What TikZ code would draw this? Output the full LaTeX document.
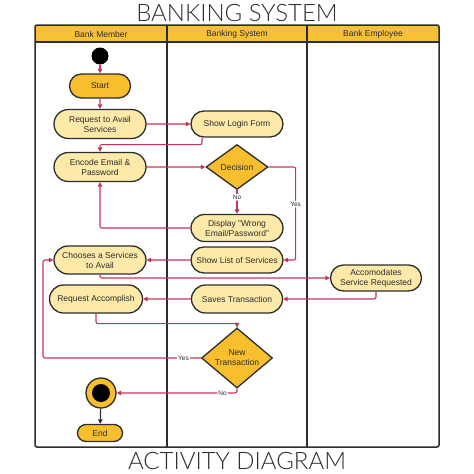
\documentclass[tikz,border=0pt]{standalone}
\usepackage{fontspec}
\setmainfont{Liberation Sans}
\newfontfamily\titlefont{Lato Light}
\usetikzlibrary{arrows.meta, positioning, shapes.geometric, shapes.misc}

\definecolor{laneyellow}{RGB}{248,192,52}
\definecolor{actfill}{RGB}{253,233,168}
\definecolor{darkfill}{RGB}{247,190,46}
\definecolor{flowred}{RGB}{196,52,88}
\definecolor{edgegray}{RGB}{45,45,45}

\tikzset{
    activity/.style={draw=edgegray, line width=1.3pt, rounded rectangle, fill=actfill, text=edgegray,
        minimum width=94pt, minimum height=28pt, inner sep=1pt, align=center, font=\fontsize{8.5}{10}\selectfont},
    terminal/.style={activity, fill=darkfill},
    choice/.style={draw=edgegray, line width=1.3pt, diamond, fill=darkfill, text=edgegray, inner sep=0pt,
        align=center, font=\fontsize{8.5}{10}\selectfont},
    flow/.style={draw=flowred, line width=1.1pt, rounded corners=2pt, -{Triangle[length=4.5pt,width=4.5pt]}},
    lbl/.style={fill=white, inner sep=1pt, text=edgegray, font=\fontsize{6.5}{7}\selectfont},
    lanehead/.style={font=\fontsize{8.5}{10}\selectfont, text=edgegray}
}

\begin{document}
\begin{tikzpicture}[x=1pt, y=-1pt]
    \useasboundingbox (0,0) rectangle (474,474);

    % swimlanes
    \fill[laneyellow] (35,25) rectangle (439,42);
    \draw[edgegray, line width=1.2pt] (35,42) -- (439,42);
    \draw[edgegray, line width=1.2pt] (167,25) -- (167,447);
    \draw[edgegray, line width=1.2pt] (307,25) -- (307,447);
    \draw[edgegray, line width=1.5pt, rounded corners=2pt] (35,25) rectangle (439,447);
    \node[lanehead] (member) at (101,34) {Bank Member};
    \node[lanehead] (system) at (237,34) {Banking System};
    \node[lanehead] (employee) at (373,34) {Bank Employee};

    \node[font=\titlefont\fontsize{24}{26}\selectfont, text=edgegray] (title) at (237,13) {BANKING SYSTEM};
    \node[font=\titlefont\fontsize{24}{26}\selectfont, text=edgegray] (caption) at (237,461) {ACTIVITY DIAGRAM};

    % activities
    \node[circle, fill=black, minimum size=17pt, inner sep=0pt] (init) at (100,56) {};
    \node[terminal, minimum width=63pt, minimum height=24pt] (start) at (100,86) {Start};
    \node[activity, minimum height=29pt] (request) at (100,124) {Request to Avail\\Services};
    \node[activity, minimum height=29pt] (encode) at (100,167) {Encode Email \&\\Password};
    \node[activity, minimum height=26pt] (login) at (237,124) {Show Login Form};
    \node[choice, minimum width=62pt, minimum height=45pt] (decision) at (237,167) {Decision};
    \node[activity, minimum height=27pt] (wrong) at (237,228) {Display "Wrong\\Email/Password"};
    \node[activity, minimum height=26pt] (showlist) at (237,260) {Show List of Services};
    \node[activity, minimum height=28pt] (choose) at (100,260) {Chooses a Services\\to Avail};
    \node[activity, minimum width=93pt, minimum height=26pt] (accom) at (376,278) {Accomodates\\Service Requested};
    \node[activity, minimum width=93pt, minimum height=28pt] (saves) at (237,299) {Saves Transaction};
    \node[activity, minimum width=95pt, minimum height=28pt] (accomplish) at (96,299) {Request Accomplish};
    \node[choice, minimum width=71pt, minimum height=52pt] (newtrans) at (237,358) {New\\Transaction};
    \node[circle, draw=edgegray, line width=1.3pt, fill=darkfill, minimum size=30pt, inner sep=0pt,
        path picture={\fill[black] (path picture bounding box.center) circle (9pt);}] (final) at (101,393) {};
    \node[terminal, minimum width=47pt, minimum height=17pt] (finish) at (100,433) {End};
    \coordinate (yesturn) at (43,300);

    % flows
    \draw[flow] (init) -- (start);
    \draw[flow] (start) -- (request);
    \draw[flow] (request) -- (login);
    \draw[flow] ([xshift=-35pt]login.south) -- ++(0,7) -| (encode.north);
    \draw[flow] (encode) -- (decision);
    \draw[flow] (decision) -- node[lbl, pos=0.3] {No} (wrong);
    \draw[flow] (decision.east) -- ++(27,0) |- node[lbl, pos=0.2] {Yes} (showlist.east);
    \draw[flow] (wrong.west) -| (encode.south);
    \draw[flow] (showlist) -- (choose);
    \draw[flow] (choose.south) |- (accom.west);
    \draw[flow] (accom.south) |- (saves.east);
    \draw[flow] (saves) -- (accomplish);
    \draw[flow] (accomplish.south) -- ++(0,10) -| (newtrans.north);
    \draw[flow] (newtrans.west) -- node[lbl, pos=0.11] {Yes} (newtrans.west -| yesturn) |- (choose.west);
    \draw[flow] (newtrans.south) |- node[lbl, pos=0.56] {No} (final.east);
    \draw[edgegray, line width=1.1pt, -{Triangle[length=4.5pt,width=4.5pt]}] (final) -- (finish);
\end{tikzpicture}
\end{document}
